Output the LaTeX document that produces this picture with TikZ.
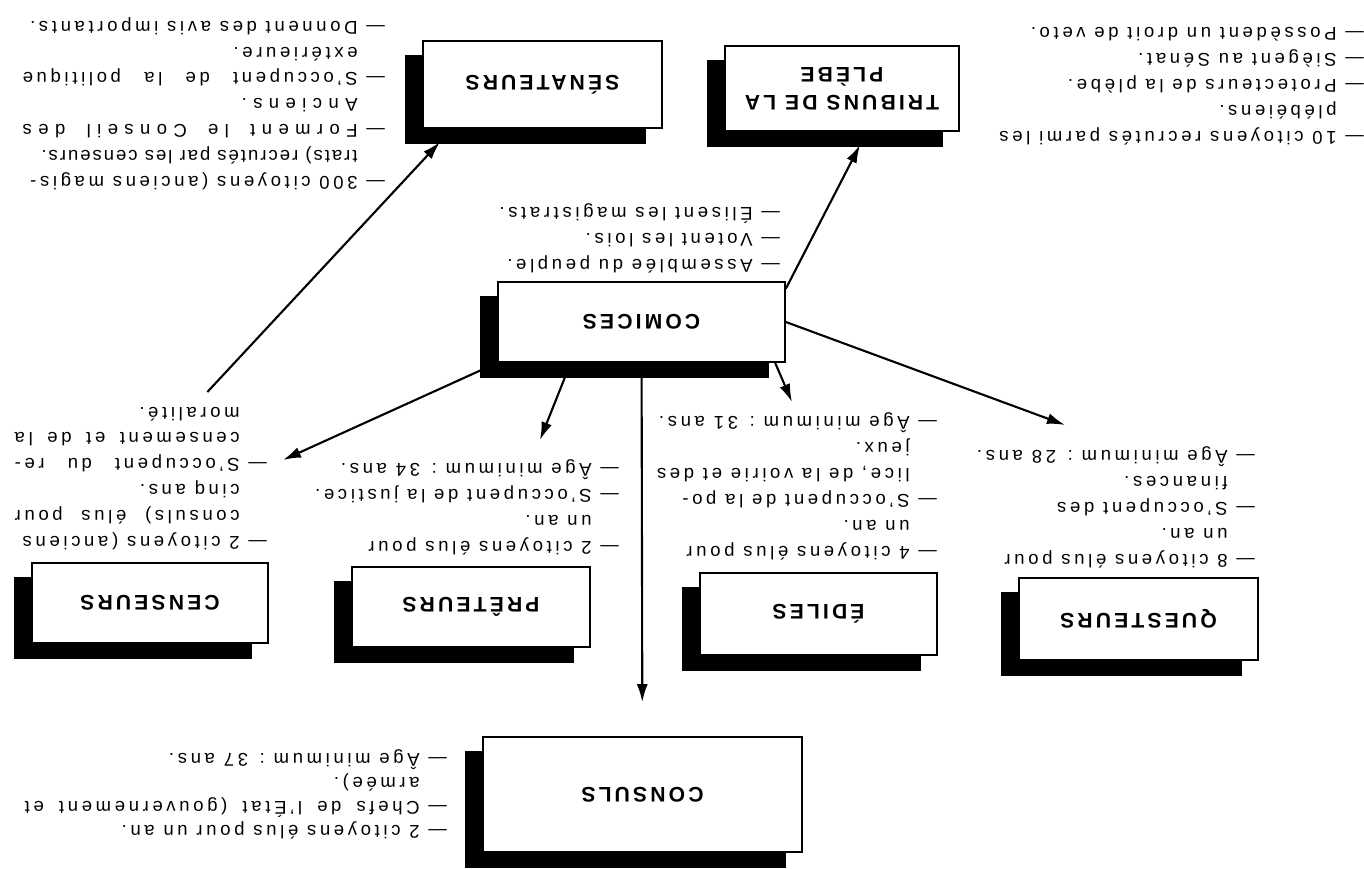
\documentclass[tikz,border=0pt]{standalone}
\usepackage{fontspec}
\setmainfont{Liberation Sans}[LetterSpace=20]
\newfontfamily\titrefont{Liberation Sans}[LetterSpace=15]
\newfontfamily\serre{Liberation Sans}[LetterSpace=11]
\newfontfamily\ecarte{Liberation Sans}[LetterSpace=35]
\usetikzlibrary{positioning,calc,arrows.meta,backgrounds}

\newcommand{\tiret}{\leavevmode\llap{---\hspace{5pt}}}

\begin{document}
\begin{tikzpicture}[rotate=180, transform shape, x=0.02cm, y=0.02cm,
    boite/.style={draw=black, line width=1pt, fill=white, align=center,
      font=\titrefont\bfseries\fontsize{12}{16}\selectfont},
    texte/.style={anchor=north west, align=left, inner sep=0pt,
      font=\fontsize{10.5}{14.7}\selectfont},
    fleche/.style={-{Latex[length=3.6mm,width=2.2mm]}, line width=1.2pt}]
  \useasboundingbox (0,0) rectangle (1364,-868);

  % les cases
  \node[boite, minimum width=6.38cm, minimum height=2.3cm] (consuls) at (721.5,-73.5) {CONSULS};
  \node[boite, minimum width=5.74cm, minimum height=1.6cm] (comices) at (722.5,-546) {COMICES};
  \node[boite, minimum width=4.78cm, minimum height=1.64cm] (questeurs) at (225.5,-249) {QUESTEURS};
  \node[boite, minimum width=4.74cm, minimum height=1.64cm] (ediles) at (545.5,-254) {ÉDILES};
  \node[boite, minimum width=4.76cm, minimum height=1.6cm] (preteurs) at (893,-261) {PRÊTEURS};
  \node[boite, minimum width=4.72cm, minimum height=1.6cm] (censeurs) at (1214,-265) {CENSEURS};
  \node[boite, minimum width=4.78cm, minimum height=1.74cm] (senateurs) at (821.5,-783.5) {SÉNATEURS};
  \node[boite, minimum width=4.68cm, minimum height=1.7cm] (tribuns) at (522,-779.5) {TRIBUNS DE LA\\PLÈBE};

  % ombres
  \begin{scope}[on background layer]
    \foreach \b in {consuls,comices,questeurs,ediles,preteurs,censeurs,senateurs,tribuns}
      \fill ($(\b.south west)+(17,15)$) rectangle ($(\b.north east)+(17,15)$);
  \end{scope}

  % les textes
  \node[texte, font=\fontsize{10.5}{13.6}\selectfont] (constxt) at (944,-29) {\tiret 2 citoyens élus pour un an.\\
    \tiret\makebox[7.9cm][s]{Chefs de l'État (gouvernement et}\\
    armée).\\
    \tiret Âge minimum : 37 ans.};
  \node[texte] (questxt) at (136,-300) {\tiret 8 citoyens élus pour\\
    un an.\\
    \tiret S'occupent des\\
    finances.\\
    \tiret Âge minimum : 28 ans.};
  \node[texte] (edtxt) at (454,-308) {\tiret 4 citoyens élus pour\\
    un an.\\
    \tiret S'occupent de la po-\\
    lice, de la voirie et des\\
    jeux.\\
    \tiret Âge minimum : 31 ans.};
  \node[texte] (pretxt) at (772,-313) {\tiret 2 citoyens élus pour\\
    un an.\\
    \tiret S'occupent de la justice.\\
    \tiret Âge minimum : 34 ans.};
  \node[texte] (censtxt) at (1124,-318) {\tiret 2 citoyens (anciens\\
    \makebox[4.5cm][s]{consuls) élus pour}\\
    cinq ans.\\
    \tiret\makebox[4.5cm][s]{S'occupent du re-}\\
    \makebox[4.5cm][s]{censement et de la}\\
    moralité.};
  \node[texte] (comtxt) at (611,-595) {\tiret Assemblée du peuple.\\
    \tiret Votent les lois.\\
    \tiret Élisent les magistrats.};
  \node[texte] (sentxt) at (1006,-678) {\tiret 300 citoyens (anciens magis-\\
    {\serre trats) recrutés par les censeurs.}\\
    \tiret{\ecarte\makebox[6.7cm][s]{Forment le Conseil des}}\\
    {\ecarte Anciens.}\\
    \tiret\makebox[6.7cm][s]{S'occupent de la politique}\\
    extérieure.\\
    \tiret Donnent des avis importants.};
  \node[texte] (tribtxt) at (27,-723) {\tiret 10 citoyens recrutés parmi les\\
    plébéiens.\\
    \tiret Protecteurs de la plèbe.\\
    \tiret Siègent au Sénat.\\
    \tiret Possèdent un droit de veto.};

  % les fleches
  \coordinate (pQ) at (299,-443);
  \coordinate (pE) at (572,-466);
  \coordinate (pP) at (824,-428);
  \coordinate (pC) at (1081,-408);
  \coordinate (pT) at (504,-723);
  \coordinate (pS) at (924,-726);
  \draw[fleche, shorten >=0.68cm] (comices) -- (consuls);
  \draw[fleche] (comices.west) -- (pQ);
  \draw[fleche] (comices.163) -- (pE);
  \draw[fleche] (comices.30) -- (pP);
  \draw[fleche] (comices.north east) -- (pC);
  \draw[fleche] (comices.193) -- (pT);
  \draw[fleche, shorten <=0.4cm] (censtxt) -- (pS);
\end{tikzpicture}
\end{document}
